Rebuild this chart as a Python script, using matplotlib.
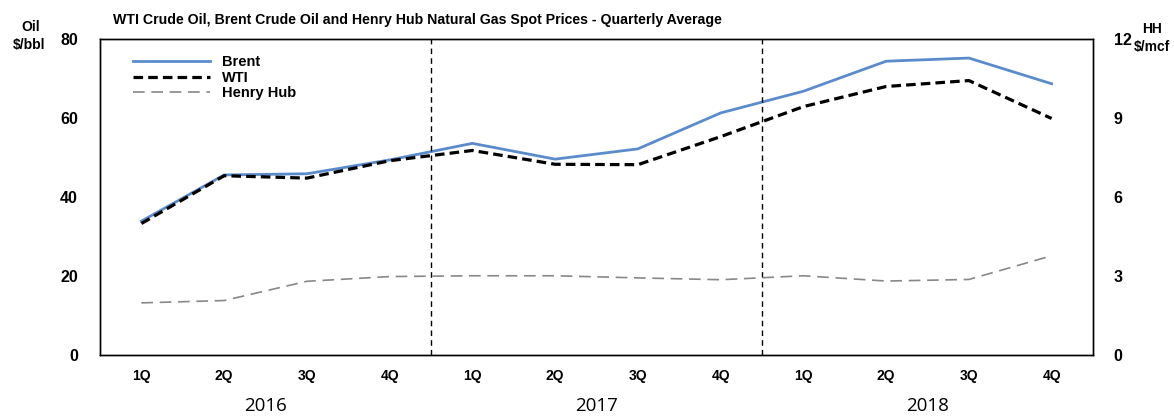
import matplotlib
matplotlib.use("Agg")
import matplotlib.pyplot as plt

quarters = ["1Q", "2Q", "3Q", "4Q"] * 3
years = ["2016", "2017", "2018"]
brent = [33.9, 45.6, 45.9, 49.4, 53.6, 49.6, 52.2, 61.3, 66.8, 74.4, 75.2, 68.7]
wti = [33.3, 45.4, 44.8, 49.2, 51.8, 48.3, 48.2, 55.3, 62.9, 68.0, 69.5, 59.9]
henry_hub = [1.98, 2.07, 2.80, 2.98, 3.01, 3.01, 2.93, 2.86, 3.01, 2.81, 2.87, 3.77]

plt.rcParams['font.family'] = ['Liberation Sans', 'DejaVu Sans']

fig = plt.figure(figsize=(11.74, 4.16), dpi=100)
ax = fig.add_axes([0.0852, 0.1466, 0.8458, 0.7594])
ax2 = ax.twinx()

x = list(range(len(quarters)))
lb, = ax.plot(x, brent, color="#5B8BCB", lw=2.0, label="Brent")
lw_, = ax.plot(x, wti, color="black", lw=2.3, ls=(0, (3, 1.6)), label="WTI")
lh, = ax2.plot(x, henry_hub, color="#888888", lw=1.2, ls=(0, (7, 4)), label="Henry Hub")

ax.set_xlim(-0.5, 11.5)
ax.set_ylim(0, 80)
ax2.set_ylim(0, 12)
ax.set_yticks([0, 20, 40, 60, 80])
ax2.set_yticks([0, 3, 6, 9, 12])
ax.set_xticks(x)
ax.set_xticklabels(quarters, fontsize=10, fontweight="bold")
for a in (ax, ax2):
    a.tick_params(length=0)
    for s in a.spines.values():
        s.set_linewidth(1.0)
ax.tick_params(axis="y", pad=16, labelsize=11.5)
ax2.tick_params(axis="y", pad=15, labelsize=11.5)
for lab in ax.get_yticklabels() + ax2.get_yticklabels():
    lab.set_fontweight("bold")
ax.tick_params(axis="x", pad=10)

for b in (3.5, 7.5):
    ax.axvline(b, color="black", lw=1.0, ls=(0, (4, 3)))

for i, yr in enumerate(years):
    ax.text(4 * i + 1.5, -0.162, yr, transform=ax.get_xaxis_transform(),
            ha="center", va="center", fontsize=13.5, family=["Open Sans", "DejaVu Sans"])

leg = ax.legend(handles=[lb, lw_, lh], loc="upper left", frameon=False,
                bbox_to_anchor=(0.02, 0.99), handlelength=5.3,
                labelspacing=0.1, prop={"weight": "bold", "size": 10.5})

fig.text(0.0963, 0.952, "WTI Crude Oil, Brent Crude Oil and Henry Hub Natural Gas Spot Prices - Quarterly Average",
         fontsize=10.2, fontweight="bold", ha="left", va="center")
fig.text(0.026, 0.935, "Oil", fontsize=10, fontweight="bold", ha="center", va="center")
fig.text(0.025, 0.892, "$/bbl", fontsize=10, fontweight="bold", ha="center", va="center")
fig.text(0.981, 0.930, "HH", fontsize=10, fontweight="bold", ha="center", va="center")
fig.text(0.966, 0.887, "$/mcf", fontsize=10, fontweight="bold", ha="left", va="center")

fig.savefig("out.png", dpi=100)
